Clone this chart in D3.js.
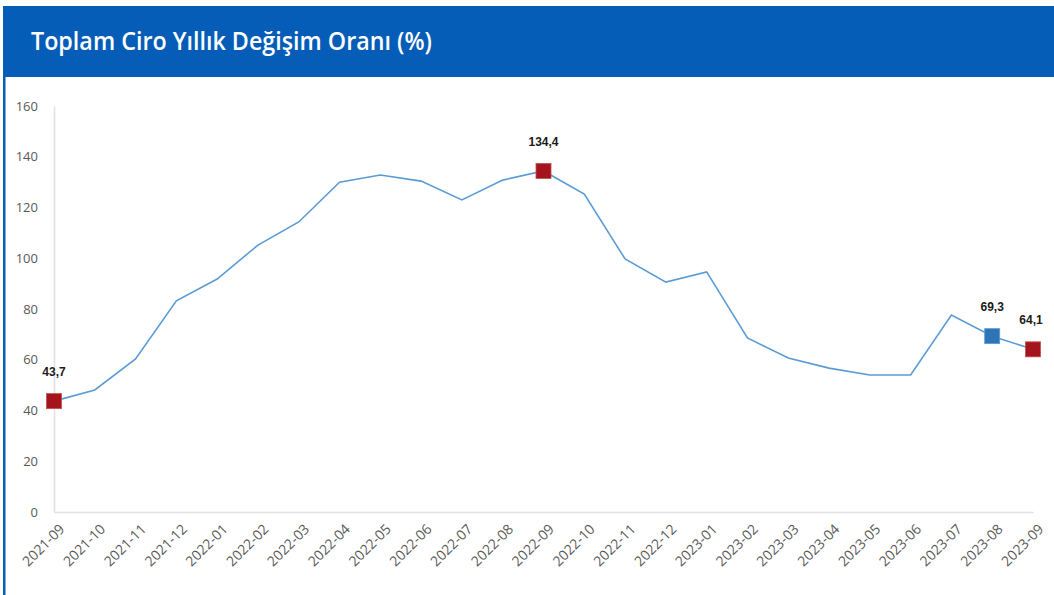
<!DOCTYPE html>
<html>
<head>
<meta charset="utf-8">
<script src="https://cdn.jsdelivr.net/npm/d3@7"></script>
<style>
  body { margin: 0; background: #fff; }
  svg { display: block; }
</style>
</head>
<body>
<div id="chart"></div>
<script>
var w = 1054,
    h = 595;

var months = ['2021-09','2021-10','2021-11','2021-12','2022-01','2022-02','2022-03','2022-04',
  '2022-05','2022-06','2022-07','2022-08','2022-09','2022-10','2022-11','2022-12','2023-01',
  '2023-02','2023-03','2023-04','2023-05','2023-06','2023-07','2023-08','2023-09'];
var values = [43.7, 48.1, 60.3, 83.2, 91.8, 105.2, 114.3, 130.0, 132.8, 130.4, 123.0, 130.8,
  134.4, 125.3, 99.7, 90.6, 94.6, 68.6, 60.7, 56.7, 54.0, 54.0, 77.6, 69.3, 64.1];
var yTicks = [0, 20, 40, 60, 80, 100, 120, 140, 160];
// highlighted points
var markRed = ['2021-09', '2022-09', '2023-09'];
var markBlue = ['2023-08'];

var svg = d3.select('#chart').append('svg').attr('width', w).attr('height', h);

// header band + left border
svg.append('rect').attr('x', 3).attr('y', 6).attr('width', w - 3).attr('height', 71).attr('fill', '#055db8');
svg.append('rect').attr('x', 3).attr('y', 6).attr('width', 2.5).attr('height', h - 6).attr('fill', '#055db8');

svg.append('text')
  .attr('x', 31).attr('y', 50)
  .attr('fill', '#fff')
  .attr('textLength', 401)
  .attr('lengthAdjust', 'spacingAndGlyphs')
  .style('font-family', '"Open Sans", "Noto Sans", sans-serif')
  .style('font-size', '25px')
  .style('font-weight', '600')
  .text('Toplam Ciro Yıllık Değişim Oranı (%)');

var x = d3.scalePoint().domain(months).range([54, 1033]);
var y = d3.scaleLinear().domain([0, 160]).range([512, 106]);

var data = months.map(function (m, i) { return {m: m, v: values[i]}; });

// axes
var yAxis = svg.append('g').attr('transform', 'translate(54,0)')
  .call(d3.axisLeft(y).tickValues(yTicks).tickSize(0).tickPadding(16));
yAxis.select('.domain').attr('stroke', '#e0e0e0').attr('stroke-width', 1.5);
yAxis.selectAll('text')
  .attr('fill', '#595959')
  .style('font-family', '"Open Sans", sans-serif')
  .style('font-size', '13px');

var xAxis = svg.append('g').attr('transform', 'translate(0,512)')
  .call(d3.axisBottom(x).tickSize(0).tickPadding(0));
xAxis.select('.domain').attr('stroke', '#e0e0e0').attr('stroke-width', 1.5);
xAxis.selectAll('text')
  .attr('fill', '#595959')
  .style('font-family', '"Open Sans", sans-serif')
  .style('font-size', '14px')
  .attr('text-anchor', 'end')
  .attr('dy', null)
  .attr('transform', 'translate(11,18) rotate(-45)');

// line
var line = d3.line()
  .x(function (d) { return x(d.m); })
  .y(function (d) { return y(d.v); });

svg.append('path')
  .datum(data)
  .attr('d', line)
  .attr('fill', 'none')
  .attr('stroke', '#5b9bd5')
  .attr('stroke-width', 1.6);

// markers
var marked = data.filter(function (d) {
  return markRed.indexOf(d.m) >= 0 || markBlue.indexOf(d.m) >= 0;
});
var s = 15;

svg.selectAll('rect.mk')
  .data(marked)
  .enter()
  .append('rect')
  .attr('class', 'mk')
  .attr('x', function (d) { return x(d.m) - s / 2; })
  .attr('y', function (d) { return y(d.v) - s / 2; })
  .attr('width', s).attr('height', s)
  .attr('fill', function (d) { return markBlue.indexOf(d.m) >= 0 ? '#2e75b6' : '#a5141c'; })
  .attr('stroke', function (d) { return markBlue.indexOf(d.m) >= 0 ? '#5b9bd5' : '#c0504d'; })
  .attr('stroke-width', 0.8);

svg.selectAll('text.lbl')
  .data(marked)
  .enter()
  .append('text')
  .attr('class', 'lbl')
  .attr('x', function (d) { return x(d.m) - (d.m === '2023-09' ? 2 : 0); })
  .attr('y', function (d) { return y(d.v) - 25; })
  .attr('text-anchor', 'middle')
  .attr('fill', '#1a1a1a')
  .style('font-family', 'Arial, "Liberation Sans", sans-serif')
  .style('font-size', '12px')
  .style('font-weight', 'bold')
  .text(function (d) { return d3.format('.1f')(d.v).replace('.', ','); });
</script>
</body>
</html>
